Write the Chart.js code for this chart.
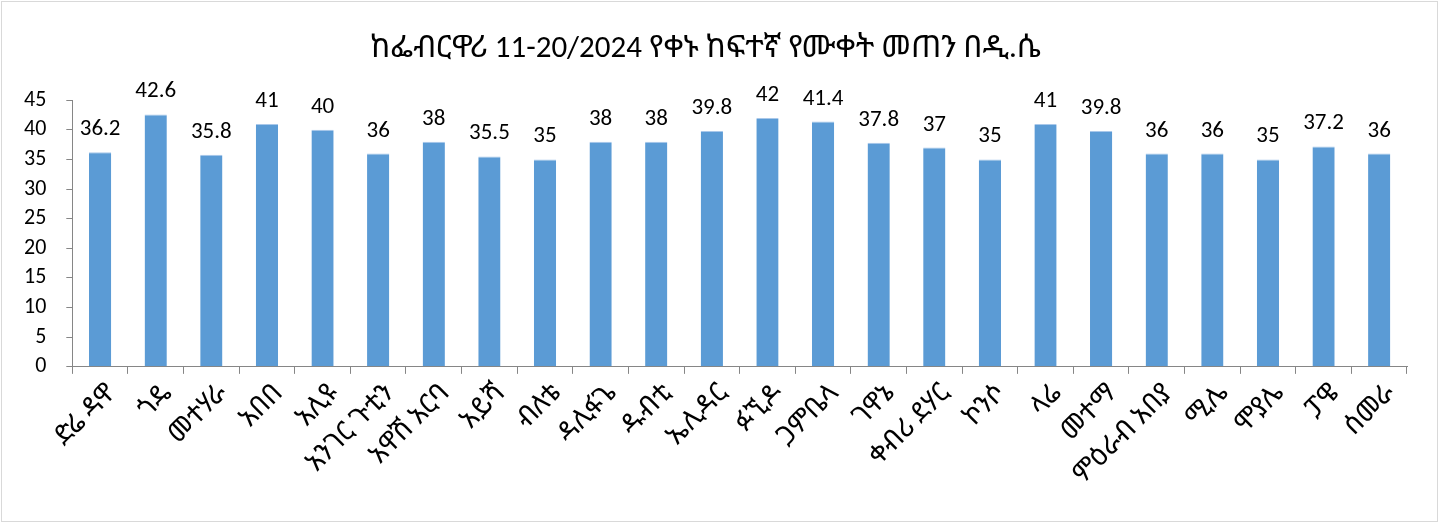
<!DOCTYPE html>
<html lang="am">
<head>
  <meta charset="UTF-8">
  <title>ከፍተኛ የሙቀት መጠን</title>
  <script src="https://cdn.jsdelivr.net/npm/chart.js"></script>
  <style>
    body { margin: 0; background: #fff; }
    #wrap { width: 1435px; height: 519px; margin: 1px; border: 1px solid #d9d9d9; }
  </style>
</head>
<body>
  <div id="wrap">
    <canvas id="barChart" width="1435" height="519"></canvas>
  </div>
  <script>
    // stations and max temperature (°C)
    const stations = [
      'ድሬ ዳዋ', 'ጎዴ', 'መተሃራ', 'አበበ', 'አሊዩ', 'አንገር ጉቲን', 'አዋሽ አርባ', 'አይሻ',
      'ብለቴ', 'ዳሊፋጌ', 'ዱብቲ', 'ኤሊዳር', 'ፉኚዶ', 'ጋምቤላ', 'ገዋኔ', 'ቀብሪ ደሃር',
      'ኮንሶ', 'ላሬ', 'መተማ', 'ምዕራብ አበያ', 'ሚሌ', 'ሞያሌ', 'ፓዌ', 'ሰመራ'
    ];
    const maxTemp = [
      36.2, 42.6, 35.8, 41, 40, 36, 38, 35.5,
      35, 38, 38, 39.8, 42, 41.4, 37.8, 37,
      35, 41, 39.8, 36, 36, 35, 37.2, 36
    ];
    const yTicks = [0, 5, 10, 15, 20, 25, 30, 35, 40, 45];
    const title = 'ከፌብርዋሪ 11-20/2024 የቀኑ ከፍተኛ የሙቀት መጠን በዲ.ሴ';

    const fontFam = 'Carlito, Calibri, "Noto Sans Ethiopic", "Abyssinica SIL", Lato, "DejaVu Sans", sans-serif';

    // value labels above bars
    const valueLabels = {
      id: 'valueLabels',
      afterDatasetsDraw(chart) {
        const ctx = chart.ctx;
        const meta = chart.getDatasetMeta(0);
        ctx.save();
        ctx.font = '23px ' + fontFam;
        ctx.fillStyle = '#000';
        ctx.textAlign = 'center';
        ctx.textBaseline = 'alphabetic';
        meta.data.forEach((bar, i) => {
          ctx.fillText(String(maxTemp[i]), bar.x, bar.y - 17);
        });
        ctx.restore();
      }
    };

    const ctx = document.getElementById('barChart').getContext('2d');
    new Chart(ctx, {
      type: 'bar',
      data: {
        labels: stations,
        datasets: [{
          data: maxTemp,
          backgroundColor: '#5b9bd5',
          borderColor: '#a9c8ea',
          borderWidth: { top: 1, left: 0, right: 0, bottom: 0 },
          barPercentage: 0.4,
          categoryPercentage: 1.0
        }]
      },
      options: {
        responsive: false,
        animation: false,
        layout: { padding: { left: 2, right: 30, top: 0, bottom: 26 } },
        plugins: {
          legend: { display: false },
          tooltip: { enabled: false },
          title: {
            display: true,
            text: title,
            color: '#000',
            font: { family: fontFam, size: 31, weight: 'normal' },
            padding: { top: 29, bottom: 32 }
          }
        },
        scales: {
          x: {
            offset: true,
            grid: { offset: true, drawOnChartArea: false, drawTicks: true, tickLength: 7, color: '#868686' },
            border: { color: '#868686' },
            ticks: {
              color: '#000',
              font: { family: fontFam, size: 27 },
              maxRotation: 45,
              minRotation: 45,
              autoSkip: false,
              padding: 4,
              labelOffset: 12
            }
          },
          y: {
            min: 0,
            max: 45,
            afterBuildTicks: axis => { axis.ticks = yTicks.map(v => ({ value: v })); },
            grid: { drawOnChartArea: false, drawTicks: true, tickLength: 6, color: '#868686' },
            border: { color: '#868686' },
            ticks: {
              color: '#000',
              font: { family: fontFam, size: 22 },
              padding: 20,
              autoSkip: false
            }
          }
        }
      },
      plugins: [valueLabels]
    });
  </script>
</body>
</html>
